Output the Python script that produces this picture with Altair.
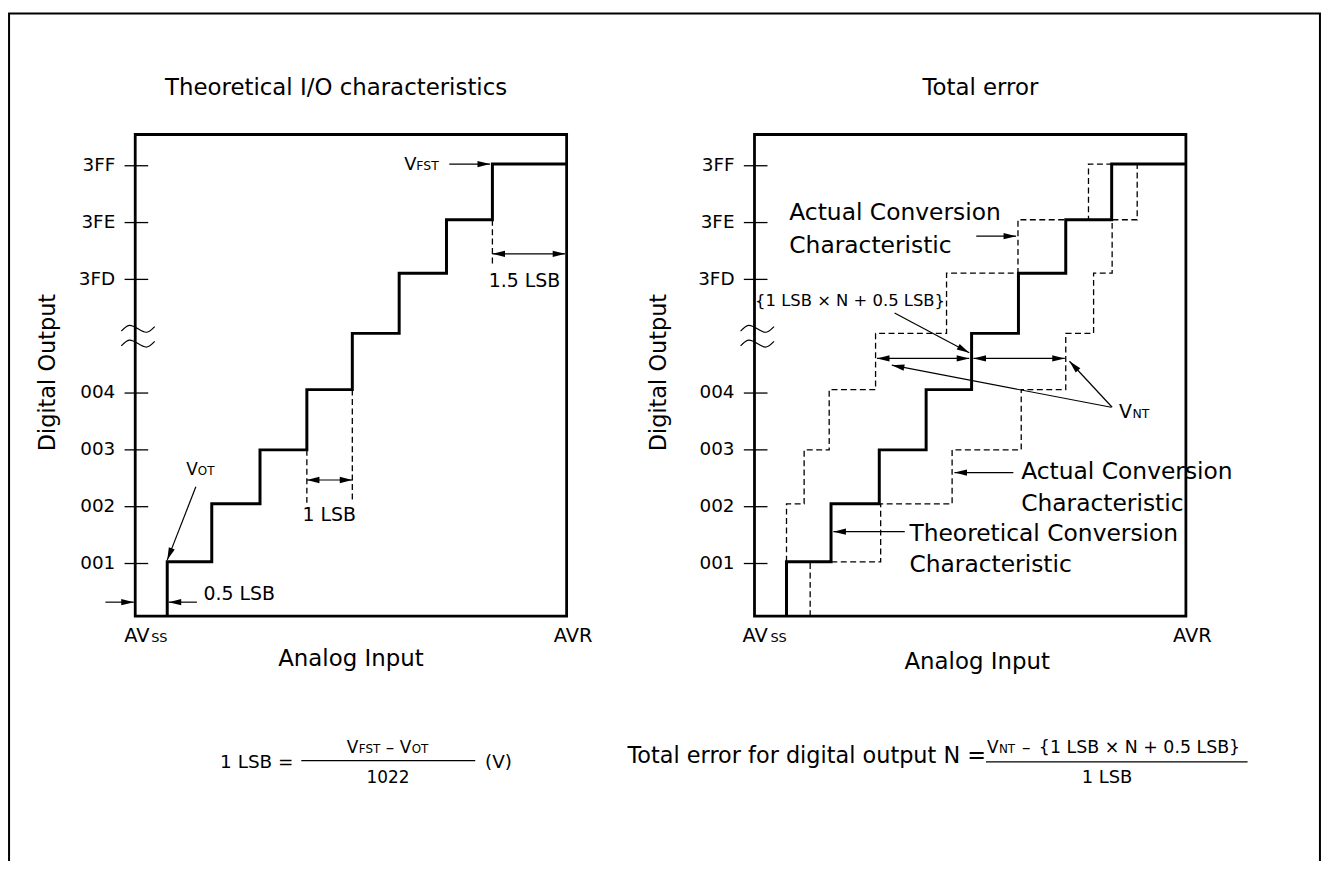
import math
import altair as alt
import pandas as pd

FONT = "DejaVu Sans"

# ---------------- values ----------------
# x: analog input in LSB counted from AVss ; y: digital output step (001 = 1)
TICK_LEVELS = [1, 2, 3, 4, 6, 7, 8]
TICK_LABELS = ["001", "002", "003", "004", "3FD", "3FE", "3FF"]
STEP_LEVELS = [1.03, 2.05, 3.00, 4.06, 5.05, 6.11, 7.05, 8.03]
THEO_X = [0.69, 1.65, 2.69, 3.70, 4.68, 5.69, 6.71, 7.70]
ACT_UPPER_X = [0.69, 1.07, 1.61, 2.61, 4.14, 5.68, 7.20, 7.71]
ACT_LOWER_X = [1.20, 2.72, 4.26, 5.75, 6.71, 7.31, 7.71, 8.25]
X_MIN, X_MAX = 0.0, 9.3          # AVss .. AVR
Y_MIN, Y_MAX = 0.073, 8.55
PANEL_SHIFT = [0.0, 13.35]
BREAK_LEVELS = [5.13, 4.87]
BREAK_X = 0.06
BREAK_DX = [-0.36, -0.19, 0.0, 0.19, 0.36]
BREAK_DY = [-0.04, 0.06, 0.0, -0.06, 0.04]
BORDER = (-2.72, 25.54, -4.5, 10.68)

# arrows: panel, x_from, y_from, x_to, y_to, heads
ARROWS = [
    (0, 1.307, 2.35, 0.69, 1.06, "end"),     # V_OT
    (0, -0.643, 0.32, -0.03, 0.32, "end"),   # 0.5 LSB left
    (0, 1.33, 0.32, 0.72, 0.32, "end"),      # 0.5 LSB right
    (0, 3.70, 2.47, 4.68, 2.47, "both"),     # 1 LSB
    (0, 6.77, 8.03, 7.65, 8.03, "end"),      # V_FST
    (0, 7.70, 6.45, 9.27, 6.45, "both"),     # 1.5 LSB
    (1, 4.78, 6.76, 5.64, 6.76, "end"),      # actual (upper)
    (1, 3.02, 5.41, 4.63, 4.71, "end"),      # {1 LSB x N + 0.5 LSB}
    (1, 2.64, 4.61, 4.63, 4.61, "both"),
    (1, 4.72, 4.61, 6.69, 4.61, "both"),
    (1, 7.69, 3.75, 2.96, 4.49, "end"),      # V_NT
    (1, 7.71, 3.75, 6.79, 4.56, "end"),      # V_NT
    (1, 5.58, 2.60, 4.31, 2.60, "end"),      # actual (lower)
    (1, 3.24, 1.56, 1.70, 1.56, "end"),      # theoretical
]
# dashed guide lines (left panel)
GUIDES = [
    (0, 3.70, 3.00, 3.70, 2.07),
    (0, 4.68, 4.06, 4.68, 2.07),
    (0, 7.70, 7.05, 7.70, 6.24),
]
# fraction bars of the two formulas
FRACTIONS = [
    (0, 3.58, -2.47, 7.33, -2.47),
    (1, 4.99, -2.49, 10.63, -2.49),
]

# text: panel, text, x, y(baseline), size, align, angle
TEXTS = [
    (0, "Theoretical I/O characteristics", 4.33, 9.24, 23, "center", 0),
    (1, "Total error", 4.87, 9.24, 23, "center", 0),
    (0, "Digital Output", -1.74, 4.36, 22.5, "center", 270),
    (1, "Digital Output", -1.90, 4.36, 22.5, "center", 270),
    (0, "Analog Input", 4.65, -0.81, 23, "center", 0),
    (1, "Analog Input", 4.80, -0.85, 23, "center", 0),
    (0, "AV", -0.236, -0.39, 19.5, "left", 0),
    (0, "SS", 0.343, -0.39, 13, "left", 0),
    (1, "AV", -0.257, -0.39, 19.5, "left", 0),
    (1, "SS", 0.343, -0.39, 13, "left", 0),
    (0, "AVR", 9.44, -0.39, 19.5, "center", 0),
    (1, "AVR", 9.44, -0.39, 19.5, "center", 0),
    (0, "V", 1.10, 2.56, 17, "left", 0),
    (0, "OT", 1.35, 2.56, 12, "left", 0),
    (0, "0.5 LSB", 2.24, 0.36, 19, "center", 0),
    (0, "1 LSB", 4.18, 1.74, 19, "center", 0),
    (0, "V", 5.80, 7.92, 18, "left", 0),
    (0, "FST", 6.06, 7.92, 12.5, "left", 0),
    (0, "1.5 LSB", 8.39, 5.87, 19, "center", 0),
    (1, "Actual Conversion", 0.75, 7.04, 23.5, "left", 0),
    (1, "Characteristic", 0.75, 6.46, 23.5, "left", 0),
    (1, "{1 LSB \u00d7 N + 0.5 LSB}", 2.06, 5.54, 16.5, "center", 0),
    (1, "V", 7.86, 3.56, 19, "left", 0),
    (1, "NT", 8.15, 3.56, 12.5, "left", 0),
    (1, "Actual Conversion", 5.75, 2.49, 23.5, "left", 0),
    (1, "Characteristic", 5.75, 1.93, 23.5, "left", 0),
    (1, "Theoretical Conversion", 3.34, 1.39, 23.5, "left", 0),
    (1, "Characteristic", 3.34, 0.85, 23.5, "left", 0),
    # formula 1
    (0, "1 LSB =", 3.41, -2.60, 18.5, "right", 0),
    (0, "V", 4.56, -2.34, 17, "left", 0),
    (0, "FST", 4.82, -2.34, 12, "left", 0),
    (0, "\u2013", 5.49, -2.34, 17, "center", 0),
    (0, "V", 5.70, -2.34, 17, "left", 0),
    (0, "OT", 5.96, -2.34, 12, "left", 0),
    (0, "(V)", 7.54, -2.60, 18.5, "left", 0),
    (0, "1022", 5.45, -2.86, 17, "center", 0),
    # formula 2
    (1, "Total error for digital output N =", 4.99, -2.51, 22.5, "right", 0),
    (1, "V", 5.01, -2.34, 17, "left", 0),
    (1, "NT", 5.27, -2.34, 12, "left", 0),
    (1, "\u2013", 5.86, -2.34, 17, "center", 0),
    (1, "{1 LSB \u00d7 N + 0.5 LSB}", 8.30, -2.34, 17.5, "center", 0),
    (1, "1 LSB", 7.60, -2.86, 18, "center", 0),
]

# ---------------- layout (pixels) ----------------
W, H = 1321, 853
PX_X, PX_Y = 46.67, 57.17
X0_PX, Y1_PX = 128.0, 556.3
XS = alt.Scale(domain=[-X0_PX / PX_X, (W - X0_PX) / PX_X], nice=False, zero=False)
YS = alt.Scale(domain=[1 - (H - Y1_PX) / PX_Y, 1 + Y1_PX / PX_Y], nice=False, zero=False)


def ex():
    return alt.X("x:Q", scale=XS, axis=None)


def ey():
    return alt.Y("y:Q", scale=YS, axis=None)


# ---------------- build tables ----------------
def theo_pts():
    pts = [(THEO_X[0], Y_MIN)]
    for k in range(8):
        pts.append((THEO_X[k], STEP_LEVELS[k]))
        pts.append((THEO_X[k + 1] if k < 7 else X_MAX, STEP_LEVELS[k]))
    return pts


def upper_pts():
    pts = [(ACT_UPPER_X[0], STEP_LEVELS[0])]
    for k in range(7):
        pts.append((ACT_UPPER_X[k], STEP_LEVELS[k + 1]))
        pts.append((ACT_UPPER_X[k + 1], STEP_LEVELS[k + 1]))
    return pts


def lower_pts():
    pts = [(ACT_LOWER_X[0], Y_MIN)]
    for k in range(8):
        pts.append((ACT_LOWER_X[k], STEP_LEVELS[k]))
        if k < 7:
            pts.append((ACT_LOWER_X[k + 1], STEP_LEVELS[k]))
    return pts


def path_rows(name, pts, panel):
    return [dict(path=f"{name}{panel}", i=i, x=x + PANEL_SHIFT[panel], y=y)
            for i, (x, y) in enumerate(pts)]


solid_rows = path_rows("theo", theo_pts(), 0) + path_rows("theo", theo_pts(), 1)
dashed_rows = path_rows("up", upper_pts(), 1) + path_rows("low", lower_pts(), 1)
break_rows = []
for p in (0, 1):
    for j, lv in enumerate(BREAK_LEVELS):
        for i, (dx, dy) in enumerate(zip(BREAK_DX, BREAK_DY)):
            break_rows.append(dict(path=f"b{p}{j}", i=i,
                                   x=BREAK_X + dx + PANEL_SHIFT[p], y=lv + dy))

box_rows = [dict(x=X_MIN + s, x2=X_MAX + s, y=Y_MIN, y2=Y_MAX) for s in PANEL_SHIFT]
border_df = pd.DataFrame([dict(x=BORDER[0], x2=BORDER[1], y=BORDER[2], y2=BORDER[3])])

tick_rows = []
for s in PANEL_SHIFT:
    for lv in TICK_LEVELS:
        tick_rows.append(dict(x=-0.23 + s, x2=0.28 + s, y=lv, y2=lv))

rule_rows, head_rows = [], []


def add_head(xt, yt, xf, yf):
    dxp = (xt - xf) * PX_X
    dyp = -(yt - yf) * PX_Y
    ang = math.degrees(math.atan2(dxp, -dyp)) % 360
    head_rows.append(dict(x=xt, y=yt, angle=ang))


for p, x1, y1, x2, y2, heads in ARROWS:
    s = PANEL_SHIFT[p]
    rule_rows.append(dict(x=x1 + s, y=y1, x2=x2 + s, y2=y2))
    add_head(x2 + s, y2, x1 + s, y1)
    if heads == "both":
        add_head(x1 + s, y1, x2 + s, y2)
for p, x1, y1, x2, y2 in FRACTIONS:
    s = PANEL_SHIFT[p]
    rule_rows.append(dict(x=x1 + s, y=y1, x2=x2 + s, y2=y2))

guide_rows = [dict(x=x1 + PANEL_SHIFT[p], y=y1, x2=x2 + PANEL_SHIFT[p], y2=y2)
              for p, x1, y1, x2, y2 in GUIDES]

text_rows = []
for p, t, x, y, size, align, ang in TEXTS:
    text_rows.append(dict(text=t, x=x + PANEL_SHIFT[p], y=y, size=size, align=align, angle=ang))
for s in PANEL_SHIFT:
    for lv, lab in zip(TICK_LEVELS, TICK_LABELS):
        text_rows.append(dict(text=lab, x=-0.43 + s, y=lv - 0.09, size=18.5, align="right", angle=0))
text_df = pd.DataFrame(text_rows)

# ---------------- layers ----------------
layers = []
layers.append(alt.Chart(border_df).mark_rect(fillOpacity=0, stroke="black", strokeWidth=2)
              .encode(x=ex(), x2=alt.X2("x2:Q"), y=ey(), y2=alt.Y2("y2:Q")))
layers.append(alt.Chart(pd.DataFrame(box_rows)).mark_rect(fillOpacity=0, stroke="black", strokeWidth=2.8)
              .encode(x=ex(), x2=alt.X2("x2:Q"), y=ey(), y2=alt.Y2("y2:Q")))
layers.append(alt.Chart(pd.DataFrame(tick_rows)).mark_rule(color="black", strokeWidth=1.3)
              .encode(x=ex(), x2=alt.X2("x2:Q"), y=ey(), y2=alt.Y2("y2:Q")))
layers.append(alt.Chart(pd.DataFrame(break_rows)).mark_line(color="black", strokeWidth=1.2, interpolate="natural")
              .encode(x=ex(), y=ey(), order="i:Q", detail="path:N"))
layers.append(alt.Chart(pd.DataFrame(dashed_rows)).mark_line(color="black", strokeWidth=1.3, strokeDash=[6, 3.5])
              .encode(x=ex(), y=ey(), order="i:Q", detail="path:N"))
layers.append(alt.Chart(pd.DataFrame(guide_rows)).mark_rule(color="black", strokeWidth=1.3, strokeDash=[6, 3.5])
              .encode(x=ex(), x2=alt.X2("x2:Q"), y=ey(), y2=alt.Y2("y2:Q")))
layers.append(alt.Chart(pd.DataFrame(solid_rows)).mark_line(color="black", strokeWidth=3, strokeJoin="miter")
              .encode(x=ex(), y=ey(), order="i:Q", detail="path:N"))
layers.append(alt.Chart(pd.DataFrame(rule_rows)).mark_rule(color="black", strokeWidth=1.2)
              .encode(x=ex(), x2=alt.X2("x2:Q"), y=ey(), y2=alt.Y2("y2:Q")))
layers.append(alt.Chart(pd.DataFrame(head_rows))
              .mark_point(shape="M0,0L-0.5,2L0.5,2Z", filled=True, color="black", opacity=1, size=160)
              .encode(x=ex(), y=ey(), angle=alt.Angle("angle:Q", scale=None)))

for align in ["left", "center", "right"]:
    sub = text_df[text_df["align"] == align]
    layers.append(alt.Chart(sub).mark_text(align=align, baseline="alphabetic", font=FONT, color="black")
                  .encode(x=ex(), y=ey(), text="text:N",
                          size=alt.Size("size:Q", scale=None),
                          angle=alt.Angle("angle:Q", scale=None)))

chart = (alt.layer(*layers)
         .properties(width=W, height=H, padding=0, background="white",
                     autosize=alt.AutoSizeParams(type="none"))
         .configure_view(stroke="transparent"))

chart.save("out.html", embed_options={"renderer": "svg", "actions": False})
